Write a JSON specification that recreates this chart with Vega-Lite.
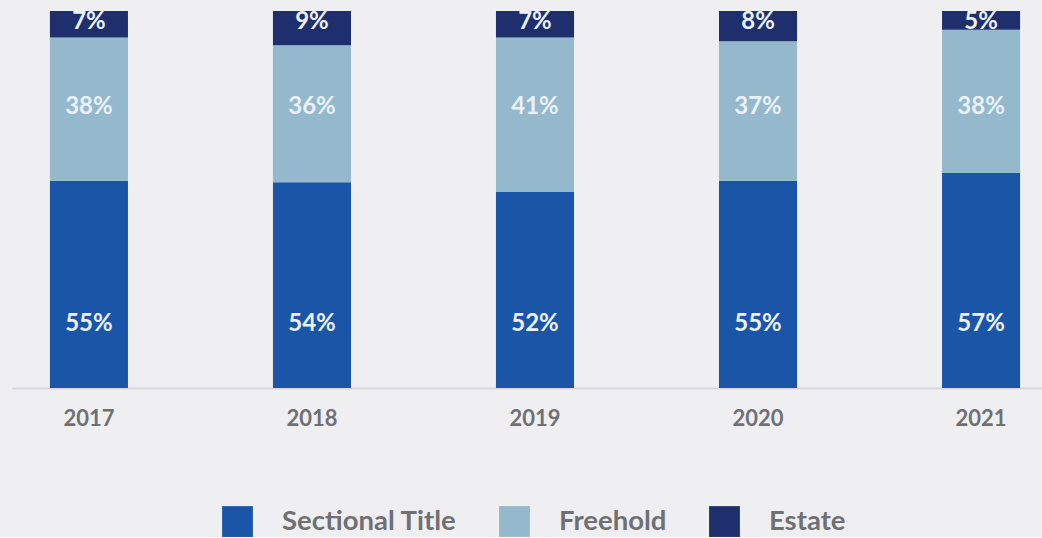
{
  "$schema": "https://vega.github.io/schema/vega-lite/v6.json",
  "width": 1046,
  "height": 377,
  "padding": {"left": 12, "top": 9, "right": 0, "bottom": 0},
  "background": "#efeff2",
  "data": {"values": [
    {"year": "2017", "type": "Sectional Title", "value": 0.55},
    {"year": "2017", "type": "Freehold", "value": 0.38},
    {"year": "2017", "type": "Estate", "value": 0.07},
    {"year": "2018", "type": "Sectional Title", "value": 0.54},
    {"year": "2018", "type": "Freehold", "value": 0.36},
    {"year": "2018", "type": "Estate", "value": 0.09},
    {"year": "2019", "type": "Sectional Title", "value": 0.52},
    {"year": "2019", "type": "Freehold", "value": 0.41},
    {"year": "2019", "type": "Estate", "value": 0.07},
    {"year": "2020", "type": "Sectional Title", "value": 0.55},
    {"year": "2020", "type": "Freehold", "value": 0.37},
    {"year": "2020", "type": "Estate", "value": 0.08},
    {"year": "2021", "type": "Sectional Title", "value": 0.57},
    {"year": "2021", "type": "Freehold", "value": 0.38},
    {"year": "2021", "type": "Estate", "value": 0.05}
  ]},
  "encoding": {
    "x": {
      "field": "year", "type": "ordinal",
      "scale": {"paddingInner": 0.65, "paddingOuter": 0.17},
      "axis": {"title": null, "labelAngle": 0, "ticks": false, "domainColor": "#d8d8dc", "domainWidth": 2, "labelFontSize": 22, "labelColor": "#707073", "labelFont": "Lato", "labelFontWeight": "bold", "labelPadding": 20}
    }
  },
  "layer": [
    {
      "mark": {"type": "bar"},
      "encoding": {
        "y": {"field": "value", "type": "quantitative", "stack": "normalize", "axis": null, "scale": {"domain": [0, 1]}},
        "color": {
          "field": "type", "type": "nominal",
          "sort": ["Sectional Title", "Freehold", "Estate"],
          "scale": {"domain": ["Sectional Title", "Freehold", "Estate"], "range": ["#1b55a8", "#94b8cc", "#1f2f6e"]},
          "legend": {"title": null, "orient": "none", "legendX": 210, "legendY": 495, "direction": "horizontal", "symbolType": "square", "symbolSize": 950, "symbolStrokeWidth": 0, "symbolOpacity": 1, "labelFontSize": 27.5, "labelLimit": 400, "labelColor": "#707073", "labelFont": "Lato", "labelFontWeight": "bold", "labelOffset": 29, "columnPadding": 42}
        },
        "order": {"field": "type", "sort": "descending"}
      }
    },
    {
      "transform": [{"filter": "datum.type === 'Sectional Title'"}],
      "mark": {"type": "text", "fontSize": 24, "font": "Lato", "fontWeight": "bold", "color": "#eaf1f9", "baseline": "middle"},
      "encoding": {"y": {"datum": 0.169, "type": "quantitative"}, "text": {"field": "value", "type": "quantitative", "format": ".0%"}}
    },
    {
      "transform": [{"filter": "datum.type === 'Freehold'"}],
      "mark": {"type": "text", "fontSize": 24, "font": "Lato", "fontWeight": "bold", "color": "#eaf1f9", "baseline": "middle"},
      "encoding": {"y": {"datum": 0.746, "type": "quantitative"}, "text": {"field": "value", "type": "quantitative", "format": ".0%"}}
    },
    {
      "transform": [{"filter": "datum.type === 'Estate'"}],
      "mark": {"type": "text", "fontSize": 24, "font": "Lato", "fontWeight": "bold", "color": "#eaf1f9", "baseline": "middle"},
      "encoding": {"y": {"datum": 0.972, "type": "quantitative"}, "text": {"field": "value", "type": "quantitative", "format": ".0%"}}
    }
  ],
  "config": {"view": {"stroke": null}}
}
